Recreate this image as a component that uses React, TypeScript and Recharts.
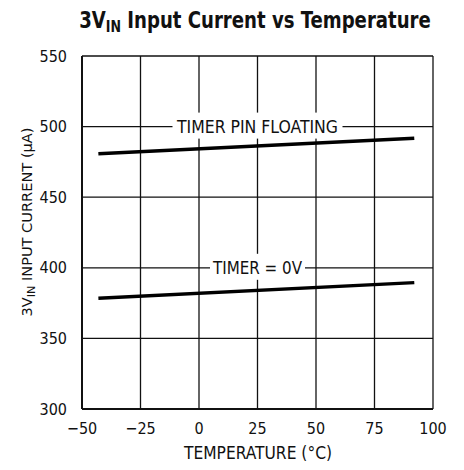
import * as React from "react"
import { LineChart, Line, XAxis, YAxis, CartesianGrid, ReferenceDot } from "recharts"

const temps = [-43, 92]
const floatingCurrent = [480.8, 491.7]
const zeroCurrent = [378.4, 389.5]
const xTicks = [-50, -25, 0, 25, 50, 75, 100]
const yTicks = [300, 350, 400, 450, 500, 550]
const curveLabels = [
  { text: "TIMER PIN FLOATING", x: 25, y: 500, w: 170, len: 161 },
  { text: "TIMER = 0V", x: 25, y: 400, w: 95, len: 89 },
]

const floatingData = temps.map((t, i) => ({ t, v: floatingCurrent[i] }))
const zeroData = temps.map((t, i) => ({ t, v: zeroCurrent[i] }))

const FONT = '"DejaVu Sans Condensed", "Liberation Sans Narrow", sans-serif'
const INK = "#111"

const fmt = (v: number) => String(v).replace("-", "\u2212")

function CurveLabel(props: any) {
  const { cx, cy, text, w, len } = props
  return (
    <g>
      <rect x={cx - w / 2} y={cy - 14} width={w} height={26} fill="#fff" />
      <text
        x={cx}
        y={cy + 6}
        textAnchor="middle"
        textLength={len}
        lengthAdjust="spacingAndGlyphs"
        fontFamily={FONT}
        fontSize={17}
        fill={INK}
      >
        {text}
      </text>
    </g>
  )
}

function YLabel() {
  const cx = 32
  const cy = 222
  return (
    <text
      x={cx}
      y={cy}
      transform={`rotate(-90 ${cx} ${cy})`}
      textAnchor="middle"
      textLength={189}
      lengthAdjust="spacingAndGlyphs"
      fontFamily={FONT}
      fontSize={14.5}
      fill={INK}
    >
      3V<tspan fontSize={11} dy={3}>IN</tspan>
      <tspan dy={-3}> INPUT CURRENT (µA)</tspan>
    </text>
  )
}

function XLabel() {
  return (
    <text
      x={258}
      y={459}
      textAnchor="middle"
      textLength={148}
      lengthAdjust="spacingAndGlyphs"
      fontFamily={FONT}
      fontSize={17}
      fill={INK}
    >
      TEMPERATURE (°C)
    </text>
  )
}

export default function App() {
  return (
    <div style={{ position: "absolute", left: 0, top: 0, width: 464, height: 470, background: "#fff" }}>
      <svg width={464} height={44} style={{ position: "absolute", left: 0, top: 0 }}>
        <g transform="translate(255 28) scale(0.875 1)">
          <text x={0} y={0} textAnchor="middle" fontFamily={FONT} fontWeight="bold" fontSize={23} fill={INK}>
            3V<tspan fontSize={16} dy={4}>IN</tspan>
            <tspan dy={-4}> Input Current vs Temperature</tspan>
          </text>
        </g>
      </svg>
      <LineChart width={464} height={470} margin={{ top: 56, right: 31, bottom: 0, left: 0 }} style={{ position: "absolute", left: 0, top: 0 }}>
        <CartesianGrid stroke={INK} strokeWidth={1.3} />
        <XAxis
          type="number"
          dataKey="t"
          domain={[-50, 100]}
          ticks={xTicks}
          tickFormatter={fmt}
          height={61}
          tickLine={false}
          tickMargin={8}
          axisLine={{ stroke: INK, strokeWidth: 2 }}
          tick={{ fontFamily: FONT, fontSize: 16, fill: INK }}
          label={<XLabel />}
          allowDataOverflow
        />
        <YAxis
          type="number"
          domain={[300, 550]}
          ticks={yTicks}
          width={82}
          tickLine={false}
          tickMargin={9}
          axisLine={{ stroke: INK, strokeWidth: 2 }}
          tick={{ fontFamily: FONT, fontSize: 16, fill: INK }}
          label={<YLabel />}
          allowDataOverflow
        />
        <Line data={floatingData} dataKey="v" stroke="#000" strokeWidth={3.5} dot={false} isAnimationActive={false} />
        <Line data={zeroData} dataKey="v" stroke="#000" strokeWidth={3.5} dot={false} isAnimationActive={false} />
        {curveLabels.map((l) => (
          <ReferenceDot
            key={l.text}
            x={l.x}
            y={l.y}
            r={0}
            shape={(p: any) => <CurveLabel {...p} text={l.text} w={l.w} len={l.len} />}
          />
        ))}
      </LineChart>
    </div>
  )
}
